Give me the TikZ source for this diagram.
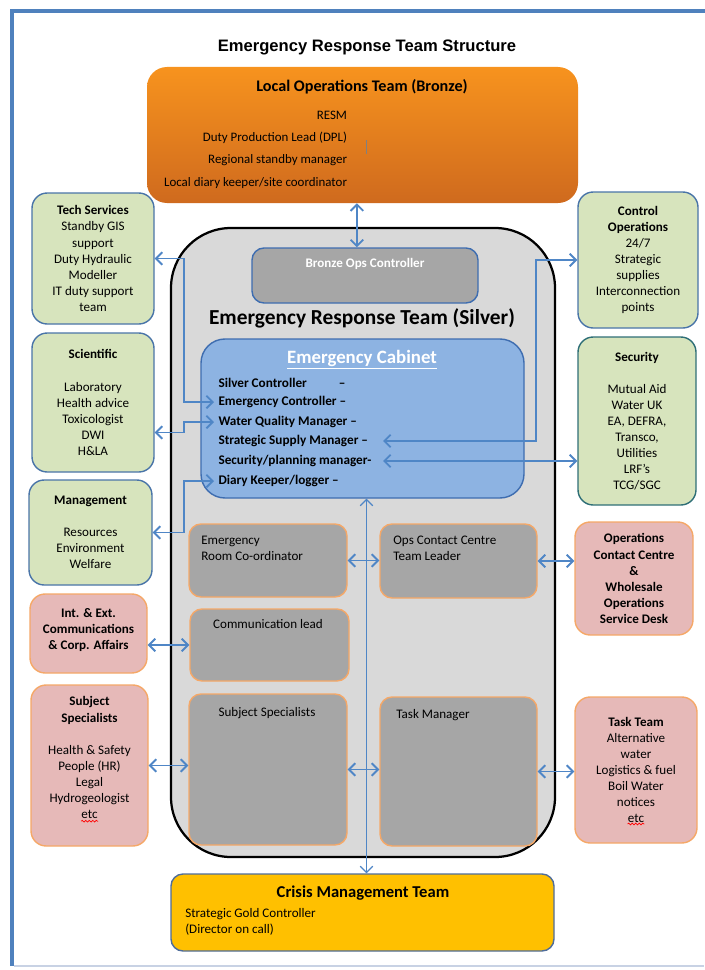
\documentclass[tikz,border=0pt]{standalone}
\usepackage{fontspec}
\setmainfont{Carlito}
\newfontfamily\arialfont{Liberation Sans}
\usepackage{xcolor}
\usepackage{tikz}
\usetikzlibrary{arrows.meta,positioning,calc,decorations.pathmorphing}

\definecolor{frameblue}{HTML}{4F81BD}
\definecolor{framegray}{HTML}{C8D2E4}
\definecolor{bronzetop}{HTML}{F7931E}
\definecolor{bronzebot}{HTML}{CF6A1E}
\definecolor{silverfill}{HTML}{D9D9D9}
\definecolor{boxgray}{HTML}{A6A6A6}
\definecolor{cabfill}{HTML}{8DB3E2}
\definecolor{cabedge}{HTML}{3E6DB0}
\definecolor{greenfill}{HTML}{D7E4BD}
\definecolor{greenedge}{HTML}{4A75A8}
\definecolor{tealedge}{HTML}{2F6F77}
\definecolor{pinkfill}{HTML}{E6B9B8}
\definecolor{orangeedge}{HTML}{F5A868}
\definecolor{goldfill}{HTML}{FFC000}
\definecolor{goldedge}{HTML}{4F6D9A}
\definecolor{linkblue}{HTML}{4F86C6}

\begin{document}
\begin{tikzpicture}[
  every node/.style={font=\fontsize{9.3}{11.4}\selectfont},
  team/.style={draw, rounded corners=0.38cm, line width=1pt, align=center, inner sep=2pt},
  support/.style={team, fill=greenfill, draw=greenedge},
  liaison/.style={team, fill=pinkfill, draw=orangeedge},
  member/.style={team, fill=boxgray, draw=orangeedge, rounded corners=0.3cm},
  head/.style={font=\fontsize{9.3}{11.4}\selectfont\bfseries},
  boxtext/.style={anchor=north west, align=left, inner sep=0pt},
  cabline/.style={anchor=west, inner xsep=3pt, inner ysep=0pt, font=\fontsize{9.4}{11}\selectfont\bfseries},
  ptr/.style={<->, >={Straight Barb[length=4.5pt,width=9pt]}, linkblue, line width=1.3pt},
  squiggle/.style={red, line width=0.5pt, decorate, decoration={snake, amplitude=0.6pt, segment length=2.5pt}}
]
\useasboundingbox (0,0) rectangle (17.6,-24.25);
\draw[frameblue, line width=2.6pt] (0.3,-24.15) -- (0.3,-0.27) -- (17.8,-0.27);
\draw[framegray, line width=0.8pt] (0.35,-24.15) -- (17.6,-24.15);

\node[font=\arialfont\bfseries\fontsize{11.8}{13}\selectfont] (title) at (9.175,-1.175) {Emergency Response Team Structure};

% bronze
\node[rounded corners=0.5cm, top color=bronzetop, bottom color=bronzebot, minimum width=10.775cm, minimum height=3.4cm] (bronze) at (9.0625,-3.375) {};
\node[font=\fontsize{11.5}{13}\selectfont\bfseries] (bronzetitle) at (9.05,-2.175) {Local Operations Team (Bronze)};
\node[anchor=east, font=\fontsize{9.2}{11}\selectfont] (resm) at (8.8,-2.875) {RESM};
\node[anchor=east, font=\fontsize{9.2}{11}\selectfont] (dpl) at (8.8,-3.45) {Duty Production Lead (DPL)};
\node[anchor=east, font=\fontsize{9.2}{11}\selectfont] (rsm) at (8.8,-4.0) {Regional standby manager};
\node[anchor=east, font=\fontsize{9.2}{11}\selectfont] (ldk) at (8.8,-4.575) {Local diary keeper/site coordinator};
\draw[gray, line width=0.6pt] (9.15,-3.5) -- (9.15,-3.85);

% silver
\node[draw=black, line width=1.6pt, fill=silverfill, rounded corners=1.5cm, minimum width=9.6cm, minimum height=15.725cm] (silver) at (9.075,-13.5625) {};
\node[draw=cabedge, fill=boxgray, line width=1pt, rounded corners=0.3cm, minimum width=5.65cm, minimum height=1.375cm] (opsctrl) at (9.125,-6.8875) {};
\node[head, text=white] (opsctrltxt) at (9.125,-6.6) {Bronze Ops Controller};
\node[font=\fontsize{15.2}{17}\selectfont\bfseries] (silvertitle) at (9.05,-7.95) {Emergency Response Team (Silver)};

% cabinet
\node[draw=cabedge, fill=cabfill, line width=1pt, rounded corners=0.6cm, minimum width=8.075cm, minimum height=3.975cm] (cabinet) at (9.0625,-10.4625) {};
\node[font=\fontsize{13.4}{15}\selectfont\bfseries, text=white] (cabtitle) at (9.05,-9.0) {\underline{Emergency Cabinet}};
\node[cabline] (ec1) at (5.35,-9.575) {Silver Controller\hspace{0.8cm}--};
\node[cabline] (ec2) at (5.35,-10.05) {Emergency Controller --};
\node[cabline] (ec3) at (5.35,-10.55) {Water Quality Manager --};
\node[cabline] (ec4) at (5.35,-11.025) {Strategic Supply Manager --};
\node[cabline] (ec5) at (5.35,-11.525) {Security/planning manager-};
\node[cabline] (ec6) at (5.35,-12.025) {Diary Keeper/logger --};
\coordinate (cabR) at (9.575,0);

% silver members
\node[member, minimum width=3.95cm, minimum height=1.825cm] (erc) at (6.7,-14.0125) {};
\node[boxtext] (erctxt) at (5.025,-13.4) {Emergency\\Room Co-ordinator};
\node[member, minimum width=3.925cm, minimum height=1.85cm] (occtl) at (11.4625,-14.025) {};
\node[boxtext] (occtltxt) at (9.825,-13.4) {Ops Contact Centre\\Team Leader};
\node[member, minimum width=3.975cm, minimum height=1.8cm] (comm) at (6.7375,-16.125) {};
\node (commtxt) at (6.7,-15.6) {Communication lead};
\node[member, minimum width=3.95cm, minimum height=3.775cm] (subjin) at (6.7,-19.2375) {};
\node (subjintxt) at (6.675,-17.825) {Subject Specialists};
\node[member, minimum width=3.925cm, minimum height=3.725cm] (taskmgr) at (11.4625,-19.2875) {};
\node[anchor=west, inner sep=0pt] (taskmgrtxt) at (9.9,-17.875) {Task Manager};

% left side
\node[support, minimum width=3.05cm, minimum height=3.275cm] (tech) at (2.325,-6.4625) {\textbf{Tech Services}\\Standby GIS\\support\\Duty Hydraulic\\Modeller\\IT duty support\\team};
\node[support, minimum width=3.05cm, minimum height=3.475cm] (sci) at (2.325,-10.0625) {\textbf{Scientific}\\[11.4pt]Laboratory\\Health advice\\Toxicologist\\DWI\\H\&LA};
\node[support, minimum width=3.075cm, minimum height=2.625cm] (mgmt) at (2.2625,-13.3125) {\textbf{Management}\\[11.4pt]Resources\\Environment\\Welfare};
\node[liaison, head, minimum width=2.925cm, minimum height=1.975cm] (intext) at (2.2125,-15.8375) {Int. \& Ext.\\Communications\\\& Corp. Affairs\\[-4.4pt]};
\node[liaison, minimum width=2.925cm, minimum height=4.025cm] (subjout) at (2.2375,-19.1375) {\textbf{Subject}\\\textbf{Specialists}\\[11.4pt]Health \& Safety\\People (HR)\\Legal\\Hydrogeologist\\etc\\};

% right side
\node[support, minimum width=3.0cm, minimum height=3.4cm] (ctrlops) at (15.95,-6.5) {\textbf{Control}\\\textbf{Operations}\\24/7\\Strategic\\supplies\\Interconnection\\points};
\node[support, draw=tealedge, minimum width=2.95cm, minimum height=4.2cm] (sec) at (15.925,-10.525) {\textbf{Security}\\[11.4pt]Mutual Aid\\Water UK\\EA, DEFRA,\\Transco,\\Utilities\\LRF's\\TCG/SGC};
\node[liaison, head, minimum width=2.95cm, minimum height=2.825cm] (opscc) at (15.85,-14.4625) {Operations\\Contact Centre\\\&\\Wholesale\\Operations\\Service Desk};
\node[liaison, minimum width=3.05cm, minimum height=3.65cm] (taskteam) at (15.9,-19.25) {\textbf{Task Team}\\Alternative\\water\\Logistics \& fuel\\Boil Water\\notices\\etc};

% spell check marks under etc
\draw[squiggle] (2.03,-20.53) -- (2.45,-20.53);
\draw[squiggle] (15.69,-20.6) -- (16.11,-20.6);

% gold
\node[draw=goldedge, fill=goldfill, line width=1pt, rounded corners=0.3cm, minimum width=9.575cm, minimum height=1.925cm] (crisis) at (9.0625,-22.8125) {};
\node[font=\fontsize{11.8}{13}\selectfont\bfseries] (crisistitle) at (9.075,-22.325) {Crisis Management Team};
\node[boxtext] (crisistxt) at (4.625,-22.7) {Strategic Gold Controller\\(Director on call)};

% links
\draw[ptr] ($(bronze.south)+(-0.14,0)$) -- ($(bronze.south |- opsctrl.north)+(-0.14,0)$);
\draw[ptr] (tech.east) -- ++(0.725,0) |- (ec2.west);
\draw[ptr] ($(sci.east)+(0,-0.75)$) -- ++(0.725,0) |- (ec3.west);
\draw[ptr] (mgmt.east) -- ++(0.775,0) |- (ec6.west);
\draw[ptr] (ctrlops.west) -- ++(-1.025,0) |- (ec4.east -| cabR);
\draw[ptr] (ec5.east -| cabR) -- (ec5.east -| sec.west);
\draw[ptr] (erc.east) -- (erc.east -| occtl.west);
\draw[ptr] (occtl.east) -- (occtl.east -| opscc.west);
\draw[ptr] (comm.west) -- (comm.west -| intext.east);
\draw[ptr] (subjout.east) -- (subjout.east -| subjin.west);
\draw[ptr] (subjin.east) -- (subjin.east -| taskmgr.west);
\draw[ptr] (taskmgr.east) -- (taskmgr.east -| taskteam.west);
\draw[ptr, line width=0.8pt] ($(cabinet.south)+(0.1,0)$) -- ($(cabinet.south |- crisis.north)+(0.1,0)$);
\end{tikzpicture}
\end{document}
